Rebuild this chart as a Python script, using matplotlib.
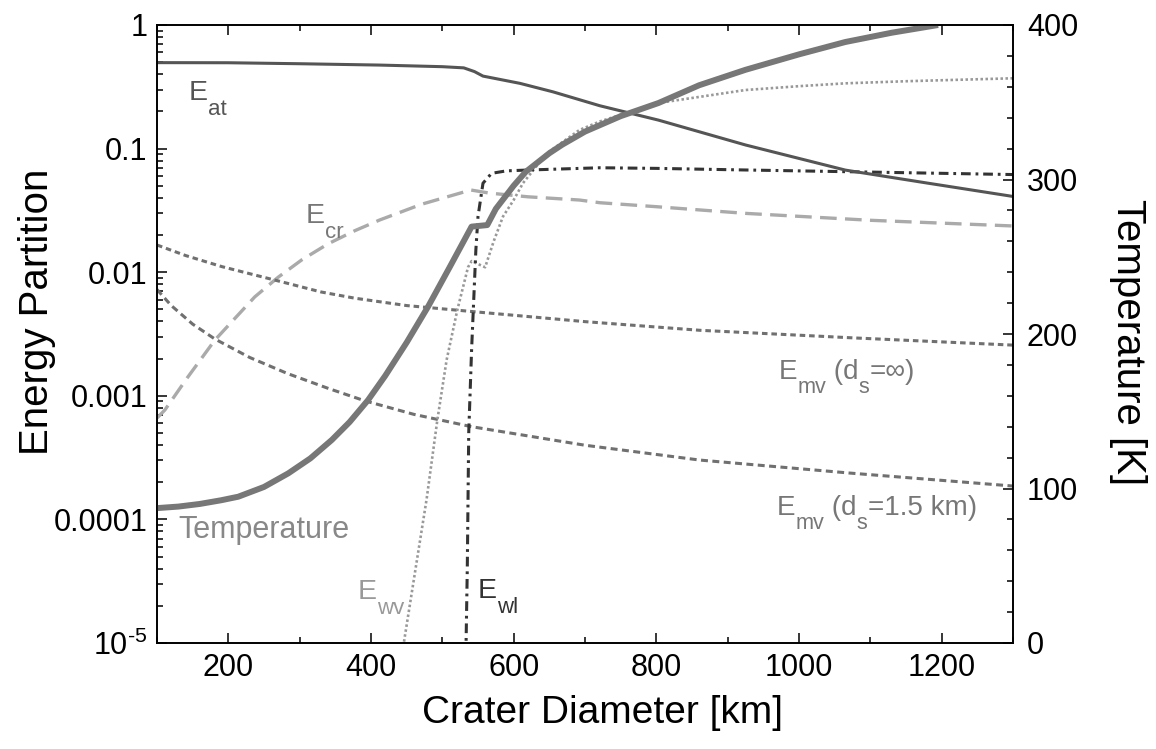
import numpy as np
import matplotlib
matplotlib.use("Agg")
import matplotlib.pyplot as plt
from matplotlib.transforms import IdentityTransform
from matplotlib.ticker import FixedLocator, FixedFormatter, MultipleLocator, LogLocator, NullFormatter

plt.rcParams['font.family'] = ['Liberation Sans', 'DejaVu Sans']
plt.rcParams['mathtext.fontset'] = 'custom'
plt.rcParams['mathtext.rm'] = 'Liberation Sans'
plt.rcParams['mathtext.it'] = 'Liberation Sans'
plt.rcParams['lines.scale_dashes'] = False

# ---------------- data ----------------
temp_d = [100, 130, 160, 190, 214, 250, 284, 315, 345, 370, 396, 420, 450, 480, 510, 541, 563,
          575, 600, 617, 650, 668, 700, 750, 803, 860, 925, 1000, 1065, 1130, 1195]
temp_T = [87.3, 88.3, 90.0, 92.4, 94.7, 101.0, 109.8, 119.5, 131.4, 143.0, 157.3, 173.0, 194.5,
          217.7, 243.0, 269.5, 270.5, 281, 296, 305, 317, 322.5, 331, 341, 349.5, 361, 371, 381,
          389, 395, 400]

eat_d = [100, 200, 300, 412, 500, 530, 545, 557, 609, 655, 721, 803, 925, 1065, 1180, 1300]
eat_v = [0.496, 0.495, 0.486, 0.474, 0.46, 0.45, 0.42, 0.386, 0.337, 0.288, 0.222, 0.170, 0.107,
         0.067, 0.0526, 0.041]

ecr_d = [100, 111, 143, 181, 237, 270, 303, 340, 377, 412, 471, 540, 566, 620, 692, 721, 800,
         925, 1100, 1300]
ecr_log = [-3.18, -3.115, -2.85, -2.55, -2.2, -2.04, -1.9, -1.77, -1.665, -1.578, -1.45, -1.335,
           -1.36, -1.39, -1.416, -1.438, -1.47, -1.524, -1.58, -1.626]

emvinf_d = [100, 140, 191, 283, 330, 377, 450, 545, 700, 861, 1071, 1300]
emvinf_log = [-1.78, -1.865, -1.955, -2.09, -2.16, -2.21, -2.27, -2.32, -2.40, -2.47, -2.53, -2.59]

emv15_d = [100, 120, 150, 181, 230, 283, 340, 391, 460, 541, 700, 861, 1071, 1300]
emv15_log = [-2.14, -2.27, -2.42, -2.54, -2.69, -2.82, -2.94, -3.04, -3.15, -3.25, -3.40, -3.52,
             -3.625, -3.73]

ewv_d = [443, 446, 463, 478, 493, 506, 521, 536, 541, 560, 572, 585, 600, 613, 646, 692, 721,
         803, 925, 1000, 1065, 1150, 1300]
ewv_log = [-5.15, -5.0, -4.38, -3.835, -3.196, -2.71, -2.306, -1.96, -1.91, -1.96, -1.75, -1.55,
           -1.416, -1.28, -1.04, -0.85, -0.78, -0.631, -0.526, -0.495, -0.472, -0.455, -0.431]

ewl_d = [533, 535, 537, 541, 544, 547, 550, 557, 569, 590, 622, 721, 800, 925, 1100, 1300]
ewl_log = [-5.1, -4.39, -3.3, -2.63, -2.225, -1.82, -1.55, -1.28, -1.2, -1.18, -1.173, -1.155,
           -1.16, -1.173, -1.19, -1.21]

ytick_vals = [1e-5, 1e-4, 1e-3, 1e-2, 1e-1, 1]
ytick_labels = [r'10$^{\text{-5}}$', '0.0001', '0.001', '0.01', '0.1', '1']
xtick_vals = [200, 400, 600, 800, 1000, 1200]
t_ticks = [0, 100, 200, 300, 400]

# ---------------- figure ----------------
W, H = 1156, 749
fig = plt.figure(figsize=(W / 100, H / 100), dpi=100)
ax = fig.add_axes([157 / W, 1 - 643 / H, (1013 - 157) / W, (643 - 25) / H])
ax2 = ax.twinx()

ax.set_yscale('log')
ax.set_xlim(100, 1300)
ax.set_ylim(1e-5, 1)
ax2.set_ylim(0, 400)

ax.plot(ecr_d, 10 ** np.array(ecr_log), color='#aaaaaa', lw=2.4, dashes=(12, 6))
ax.plot(emvinf_d, 10 ** np.array(emvinf_log), color='#707070', lw=2.2, dashes=(4, 2.8))
ax.plot(emv15_d, 10 ** np.array(emv15_log), color='#707070', lw=2.2, dashes=(5, 3.2))
ax.plot(ewv_d, 10 ** np.array(ewv_log), color='#999999', lw=1.9, dashes=(1.8, 1.8))
ax.plot(ewl_d, 10 ** np.array(ewl_log), color='#333333', lw=2.2, dashes=(7, 3.5, 2, 3.5))
ax.plot(eat_d, eat_v, color='#555555', lw=2.2)
ax2.plot(temp_d, temp_T, color='#777777', lw=4.3, solid_capstyle='butt')

ax.yaxis.set_major_locator(FixedLocator(ytick_vals))
ax.yaxis.set_major_formatter(FixedFormatter(ytick_labels))
ax.yaxis.set_minor_locator(LogLocator(base=10, subs=np.arange(2, 10)))
ax.yaxis.set_minor_formatter(NullFormatter())
ax.xaxis.set_major_locator(FixedLocator(xtick_vals))
ax.xaxis.set_minor_locator(MultipleLocator(100))
ax.tick_params(which='both', direction='in', top=True, right=False, labelsize=22, width=1.1,
               colors='black')
ax.tick_params(which='major', length=7, pad=7)
ax.tick_params(which='minor', length=4)

ax2.yaxis.set_major_locator(FixedLocator(t_ticks))
ax2.yaxis.set_minor_locator(MultipleLocator(20))
ax2.tick_params(which='both', direction='in', labelsize=22, width=1.1)
ax2.tick_params(which='major', length=7, pad=10)
ax2.tick_params(which='minor', length=4)

for a in (ax, ax2):
    for s in a.spines.values():
        s.set_linewidth(1.2)

fig.text(602 / W, 1 - 713 / H, 'Crater Diameter [km]', fontsize=28, ha='center', va='center')
fig.text(37 / W, 1 - 312 / H, 'Energy Partition', fontsize=29, ha='center', va='center',
         rotation=90)
fig.text(1128 / W, 1 - 342 / H, 'Temperature [K]', fontsize=29, ha='center', va='center',
         rotation=270)

# annotations with IDL-like subscripts, laid out piece by piece in pixel coordinates
renderer = fig.canvas.get_renderer()
ident = IdentityTransform()


def rich(px, py, pieces, color, fs=20, sub_scale=0.78, drop=0.52):
    x = px
    for s, is_sub in pieces:
        size = fs * sub_scale if is_sub else fs
        y = H - py - (drop * fs * 100 / 72 if is_sub else 0)
        t = fig.text(x, y, s, color=color, fontsize=size, ha='left', va='baseline',
                     transform=ident)
        x += t.get_window_extent(renderer).width


rich(189, 100, [('E', False), ('at', True)], '#555555', 20.5)
rich(306, 223, [('E', False), ('cr', True)], '#777777', 20.5)
rich(178, 538, [('Temperature', False)], '#888888', 22)
rich(358, 599, [('E', False), ('wv', True)], '#999999', 20.5)
rich(478, 598, [('E', False), ('wl', True)], '#333333', 20.5)
rich(779, 379, [('E', False), ('mv', True), (' (d', False), ('s', True), ('=\u221e)', False)],
     '#777777', 20)
rich(777, 515, [('E', False), ('mv', True), (' (d', False), ('s', True), ('=1.5 km)', False)],
     '#777777', 20)

fig.savefig('out.png', dpi=100)
